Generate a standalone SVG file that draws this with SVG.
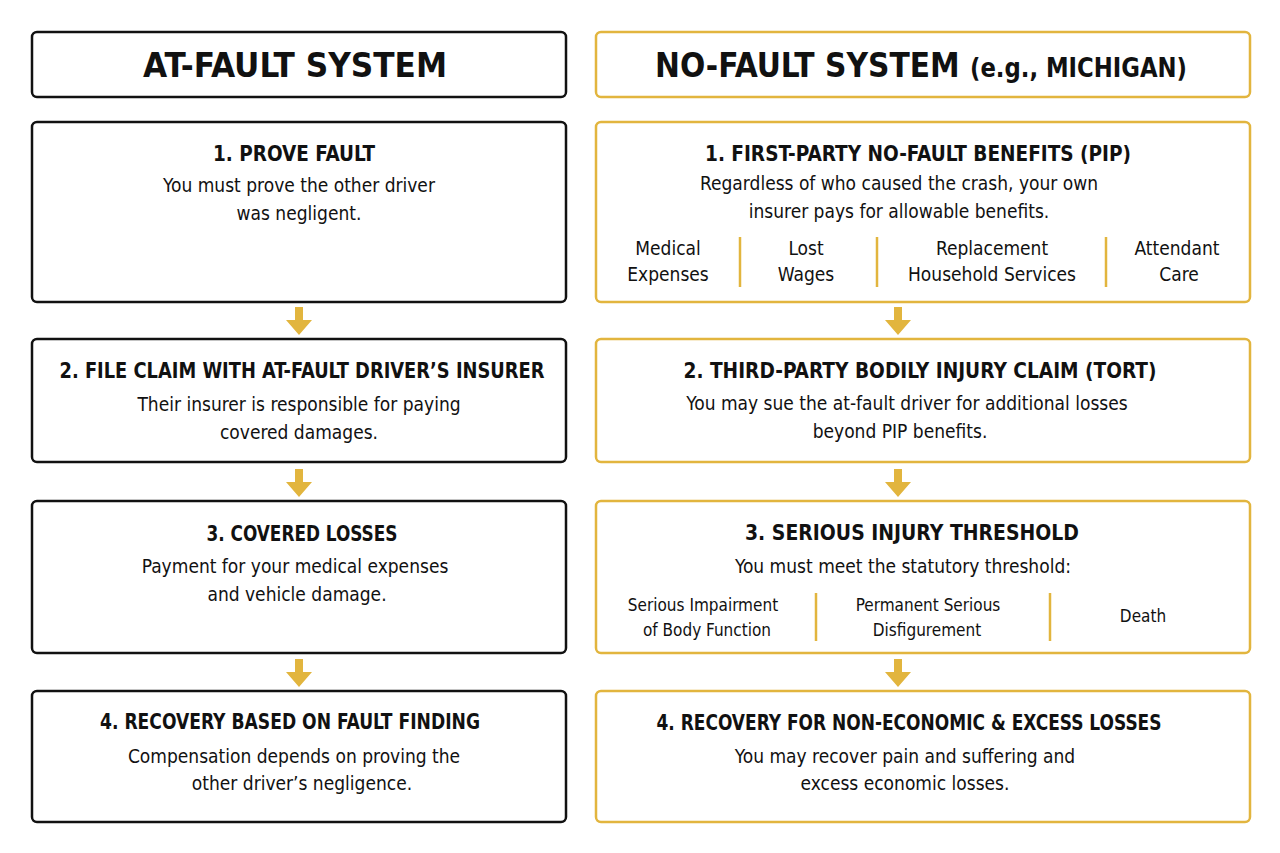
<svg xmlns="http://www.w3.org/2000/svg" width="1280" height="853" viewBox="0 0 1280 853">
<style>
.bk{fill:#fff;stroke:#111;stroke-width:2.5}
.gd{fill:#fff;stroke:#e2b53e;stroke-width:2.5}
text{font-family:"DejaVu Sans Condensed","Liberation Sans Narrow","Liberation Sans",sans-serif;fill:#111;text-anchor:middle}
.h{font-size:34px;font-weight:bold}
.t{font-size:22px;font-weight:bold}
.b{font-size:19px}
.s{font-size:17px}
.sep{stroke:#e2b53e;stroke-width:2.5}
.ar{fill:#e2b53e}
</style>
<rect width="1280" height="853" fill="#fff"/>
<g id="left-header"><rect class="bk" x="32" y="32" width="534" height="65" rx="5"/><text class="h" x="295" y="77" textLength="304" lengthAdjust="spacingAndGlyphs">AT-FAULT SYSTEM</text></g>
<g id="right-header"><rect class="gd" x="596" y="32" width="654" height="65" rx="5"/><text class="h" x="921" y="77" textLength="532" lengthAdjust="spacingAndGlyphs">NO-FAULT SYSTEM <tspan font-size="26">(e.g., MICHIGAN)</tspan></text></g>
<g id="l1"><rect class="bk" x="32" y="122" width="534" height="180" rx="5"/><text class="t" x="294" y="161" textLength="162" lengthAdjust="spacingAndGlyphs">1. PROVE FAULT</text><text class="b" x="299" y="192">You must prove the other driver</text><text class="b" x="299" y="220">was negligent.</text></g>
<g id="l2"><rect class="bk" x="32" y="339" width="534" height="123" rx="5"/><text class="t" x="302" y="378" textLength="485" lengthAdjust="spacingAndGlyphs">2. FILE CLAIM WITH AT-FAULT DRIVER’S INSURER</text><text class="b" x="299" y="411">Their insurer is responsible for paying</text><text class="b" x="299" y="439">covered damages.</text></g>
<g id="l3"><rect class="bk" x="32" y="501" width="534" height="152" rx="5"/><text class="t" x="302" y="541" textLength="191" lengthAdjust="spacingAndGlyphs">3.  COVERED LOSSES</text><text class="b" x="295" y="573">Payment for your medical expenses</text><text class="b" x="297" y="601">and vehicle damage.</text></g>
<g id="l4"><rect class="bk" x="32" y="691" width="534" height="131" rx="5"/><text class="t" x="290" y="729" textLength="380" lengthAdjust="spacingAndGlyphs">4. RECOVERY BASED ON FAULT FINDING</text><text class="b" x="294" y="763">Compensation depends on proving the</text><text class="b" x="302" y="790">other driver’s negligence.</text></g>
<g id="r1"><rect class="gd" x="596" y="122" width="654" height="180" rx="5"/><text class="t" x="918" y="161" textLength="426" lengthAdjust="spacingAndGlyphs">1. FIRST-PARTY NO-FAULT BENEFITS (PIP)</text><text class="b" x="899" y="190">Regardless of who caused the crash, your own</text><text class="b" x="899" y="218">insurer pays for allowable benefits.</text>
<text class="b" x="668" y="255">Medical</text><text class="b" x="668" y="281">Expenses</text><line class="sep" x1="740" y1="237" x2="740" y2="287"/>
<text class="b" x="806" y="255">Lost</text><text class="b" x="806" y="281">Wages</text><line class="sep" x1="877" y1="237" x2="877" y2="287"/>
<text class="b" x="992" y="255">Replacement</text><text class="b" x="992" y="281">Household Services</text><line class="sep" x1="1106" y1="237" x2="1106" y2="287"/>
<text class="b" x="1177" y="255">Attendant</text><text class="b" x="1179" y="281">Care</text></g>
<g id="r2"><rect class="gd" x="596" y="339" width="654" height="123" rx="5"/><text class="t" x="920" y="378" textLength="473" lengthAdjust="spacingAndGlyphs">2. THIRD-PARTY BODILY INJURY CLAIM (TORT)</text><text class="b" x="907" y="410">You may sue the at-fault driver for additional losses</text><text class="b" x="900" y="438">beyond PIP benefits.</text></g>
<g id="r3"><rect class="gd" x="596" y="501" width="654" height="152" rx="5"/><text class="t" x="912" y="540" textLength="334" lengthAdjust="spacingAndGlyphs">3. SERIOUS INJURY THRESHOLD</text><text class="b" x="903" y="573">You must meet the statutory threshold:</text>
<text class="s" x="703" y="611">Serious Impairment</text><text class="s" x="707" y="636">of Body Function</text><line class="sep" x1="816" y1="593" x2="816" y2="641"/>
<text class="s" x="928" y="611">Permanent Serious</text><text class="s" x="927" y="636">Disfigurement</text><line class="sep" x1="1050" y1="593" x2="1050" y2="641"/>
<text class="s" x="1143" y="622">Death</text></g>
<g id="r4"><rect class="gd" x="596" y="691" width="654" height="131" rx="5"/><text class="t" x="909" y="730" textLength="505" lengthAdjust="spacingAndGlyphs">4. RECOVERY FOR NON-ECONOMIC &amp; EXCESS LOSSES</text><text class="b" x="905" y="763">You may recover pain and suffering and</text><text class="b" x="905" y="790">excess economic losses.</text></g>
<g id="connectors">
<path class="ar" d="M295 307h8v13h9l-13 15l-13-15h9z"/>
<path class="ar" d="M295 469h8v13h9l-13 15l-13-15h9z"/>
<path class="ar" d="M295 659h8v13h9l-13 15l-13-15h9z"/>
<path class="ar" d="M894 307h8v13h9l-13 15l-13-15h9z"/>
<path class="ar" d="M894 469h8v13h9l-13 15l-13-15h9z"/>
<path class="ar" d="M894 659h8v13h9l-13 15l-13-15h9z"/>
</g>
</svg>
